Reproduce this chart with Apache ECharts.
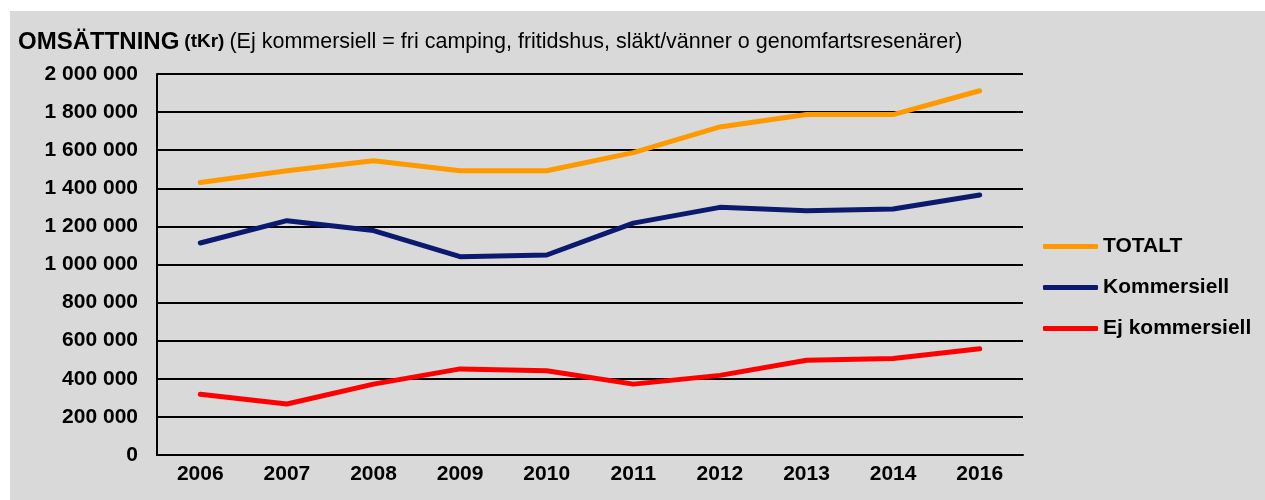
<!DOCTYPE html>
<html>
<head>
<meta charset="utf-8">
<script src="https://cdn.jsdelivr.net/npm/echarts@6/dist/echarts.min.js"></script>
<style>
  body { margin: 0; background: #fff; }
  #chart { position: absolute; left: 10px; top: 11px; width: 1255px; height: 489px; }
</style>
</head>
<body>
<div id="chart"></div>
<script>
// årtal (2015 saknas i originalet)
var years = ['2006', '2007', '2008', '2009', '2010', '2011', '2012', '2013', '2014', '2016'];
var totalt = [1430000, 1492000, 1545000, 1492000, 1492000, 1587000, 1722000, 1787000, 1787000, 1912000];
var kommersiell = [1113000, 1230000, 1178000, 1041000, 1050000, 1217000, 1300000, 1282000, 1291000, 1365000];
var ejKommersiell = [319000, 268000, 372000, 452000, 442000, 372000, 418000, 497000, 506000, 558000];
var yTicks = [0, 200000, 400000, 600000, 800000, 1000000, 1200000, 1400000, 1600000, 1800000, 2000000];

var font = 'Liberation Sans';

function fmt(v) {
  return String(v).replace(/\B(?=(\d{3})+(?!\d))/g, ' ');
}

var myChart = echarts.init(document.getElementById('chart'));
myChart.setOption({
  backgroundColor: '#d9d9d9',
  animation: false,
  textStyle: { fontFamily: font },
  title: {
    left: 3,
    top: 14,
    text: '{a|OMSÄTTNING} {b|(tKr)} {c|(Ej kommersiell = fri camping, fritidshus, släkt/vänner o genomfartsresenärer)}',
    textStyle: {
      fontWeight: 'normal',
      rich: {
        a: { fontFamily: font, fontWeight: 'bold', fontSize: 24, color: '#000' },
        b: { fontFamily: font, fontWeight: 'bold', fontSize: 19, color: '#000' },
        c: { fontFamily: font, fontWeight: 'normal', fontSize: 21.5, color: '#000' }
      }
    }
  },
  legend: {
    orient: 'vertical',
    left: 1028,
    top: 220,
    itemWidth: 55,
    itemHeight: 5,
    itemGap: 20,
    icon: 'roundRect',
    textStyle: { fontFamily: font, fontWeight: 'bold', fontSize: 21, color: '#000' },
    data: ['TOTALT', 'Kommersiell', 'Ej kommersiell']
  },
  grid: { left: 147, top: 63, width: 866, height: 381 },
  xAxis: {
    type: 'category',
    data: years,
    axisLine: { lineStyle: { color: '#000', width: 2 } },
    axisTick: { inside: true, length: 6, lineStyle: { color: '#000', width: 2 } },
    axisLabel: { color: '#000', fontWeight: 'bold', fontSize: 21, margin: 9 }
  },
  yAxis: {
    type: 'value',
    min: yTicks[0],
    max: yTicks[yTicks.length - 1],
    interval: yTicks[1] - yTicks[0],
    axisLine: { show: true, lineStyle: { color: '#000', width: 2 } },
    axisTick: { show: false },
    splitLine: { lineStyle: { color: '#000', width: 2 } },
    axisLabel: { color: '#000', fontWeight: 'bold', fontSize: 21, margin: 19, formatter: fmt }
  },
  series: [
    { name: 'TOTALT', type: 'line', data: totalt, color: '#ff9900', symbol: 'none',
      lineStyle: { width: 5, cap: 'round', join: 'round' } },
    { name: 'Kommersiell', type: 'line', data: kommersiell, color: '#0b1a6e', symbol: 'none',
      lineStyle: { width: 5, cap: 'round', join: 'round' } },
    { name: 'Ej kommersiell', type: 'line', data: ejKommersiell, color: '#ff0000', symbol: 'none',
      lineStyle: { width: 5, cap: 'round', join: 'round' } }
  ]
});
</script>
</body>
</html>
